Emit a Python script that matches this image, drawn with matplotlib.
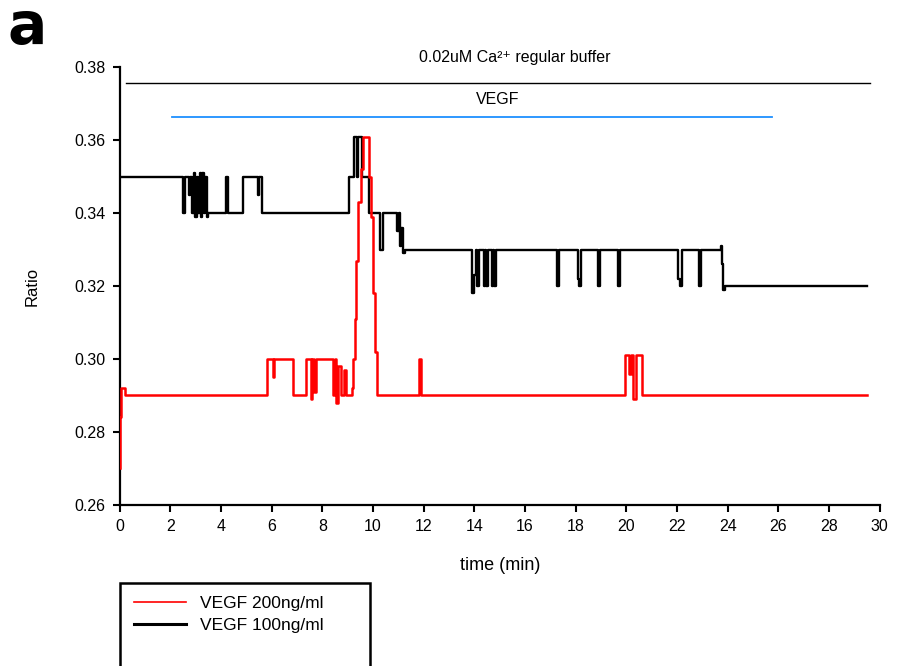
import matplotlib
matplotlib.use("Agg")
import matplotlib.pyplot as plt
from matplotlib.patches import Rectangle

plt.rcParams['font.family'] = ['Liberation Sans', 'DejaVu Sans']

# VEGF 200 ng/ml trace (time in min, ratio), step-wise
red_t = [0.00, 0.03, 0.07, 0.20,
         5.80, 6.05, 6.10, 6.83,
         7.37, 7.55, 7.60, 7.68, 7.73, 8.40, 8.48, 8.55, 8.62, 8.75, 8.85, 8.92,
         9.15, 9.20, 9.27, 9.33, 9.42, 9.52, 9.62, 9.85, 9.90, 9.98, 10.07, 10.17,
         11.82, 11.90,
         19.94, 20.10, 20.18, 20.26, 20.37, 20.60,
         29.50]
red_v = [0.270, 0.284, 0.292, 0.290,
         0.300, 0.295, 0.300, 0.290,
         0.300, 0.289, 0.300, 0.291, 0.300, 0.290, 0.300, 0.288, 0.298, 0.290, 0.297, 0.290,
         0.292, 0.300, 0.311, 0.327, 0.343, 0.352, 0.361, 0.350, 0.339, 0.318, 0.302, 0.290,
         0.300, 0.290,
         0.301, 0.296, 0.301, 0.289, 0.301, 0.290,
         0.290]

# VEGF 100 ng/ml trace
blk_t = [0.00,
         2.50, 2.58, 2.72, 2.78, 2.85, 2.92, 2.98, 3.05, 3.10, 3.15, 3.20, 3.26, 3.32, 3.38, 3.44, 3.50,
         4.19, 4.27,
         4.85, 5.45, 5.50, 5.62,
         9.05, 9.25, 9.35, 9.42, 9.58, 9.82,
         10.29, 10.38,
         10.95, 11.02, 11.07, 11.12, 11.18, 11.25,
         13.92, 14.00, 14.05, 14.11, 14.18,
         14.38, 14.42, 14.46, 14.52, 14.68, 14.74, 14.78, 14.86,
         17.27, 17.34, 18.07, 18.13, 18.19, 18.89, 18.96, 19.67, 19.74,
         22.04, 22.12, 22.19, 22.87, 22.94,
         23.72, 23.76, 23.82, 23.88, 29.50]
blk_v = [0.350,
         0.340, 0.350, 0.345, 0.350, 0.340, 0.351, 0.339, 0.350, 0.340, 0.351, 0.339, 0.351, 0.340, 0.350, 0.339, 0.340,
         0.350, 0.340,
         0.350, 0.345, 0.350, 0.340,
         0.350, 0.361, 0.350, 0.361, 0.350, 0.340,
         0.330, 0.340,
         0.335, 0.340, 0.331, 0.336, 0.329, 0.330,
         0.318, 0.323, 0.330, 0.320, 0.330,
         0.320, 0.330, 0.320, 0.330, 0.320, 0.330, 0.320, 0.330,
         0.320, 0.330, 0.322, 0.320, 0.330, 0.320, 0.330, 0.320, 0.330,
         0.322, 0.320, 0.330, 0.320, 0.330,
         0.331, 0.326, 0.319, 0.320, 0.320]

# treatment bars: (start, end) in min
buffer_span = [0.25, 29.6]
vegf_span = [2.05, 25.75]

fig = plt.figure(figsize=(9.07, 6.66), dpi=100)
ax = fig.add_axes([0.132, 0.242, 0.838, 0.657])

red_line, = ax.plot(red_t, red_v, drawstyle="steps-post", color="#ff0000",
                    lw=1.8, label="VEGF 200ng/ml", zorder=3)
blk_line, = ax.plot(blk_t, blk_v, drawstyle="steps-post", color="black",
                    lw=1.7, label="VEGF 100ng/ml", zorder=2)

ax.plot(buffer_span, [0.3756, 0.3756], color="black", lw=1.0, clip_on=False)
ax.plot(vegf_span, [0.3663, 0.3663], color="#1e90ff", lw=1.3, clip_on=False)
ax.text(15.6, 0.3827, "0.02uM Ca²⁺ regular buffer", ha="center", va="center",
        fontsize=11.5, clip_on=False)
ax.text(14.9, 0.3712, "VEGF", ha="center", va="center", fontsize=11.5)

ax.set_xlim(0, 30)
ax.set_ylim(0.26, 0.38)
ax.set_xticks(range(0, 31, 2))
ax.set_yticks([0.26, 0.28, 0.30, 0.32, 0.34, 0.36, 0.38])
ax.set_yticklabels([f"{v:.2f}" for v in ax.get_yticks()])
for s in ["top", "right"]:
    ax.spines[s].set_visible(False)
for s in ["left", "bottom"]:
    ax.spines[s].set_linewidth(1.6)
ax.tick_params(direction="out", length=5, width=1.5, labelsize=11.5, pad=5)
ax.set_xlabel("time (min)", fontsize=13, labelpad=17)
ax.set_ylabel("Ratio", fontsize=12, labelpad=25)

fig.text(0.008, 0.958, "a", fontsize=42, fontweight="bold", family="DejaVu Sans",
         va="center", ha="left")

# legend box, cut off at the bottom like the original
fig.patches.append(Rectangle((120 / 907, -0.05), 250 / 907, (666 - 583) / 666 + 0.05,
                             transform=fig.transFigure, fill=False,
                             edgecolor="black", lw=1.8))
leg = fig.legend(handles=[red_line, blk_line], loc="upper left",
                 bbox_to_anchor=(134 / 907, 1 - 596 / 666), frameon=False,
                 fontsize=12.5, handlelength=3.0, handletextpad=0.8,
                 labelspacing=0.4, borderpad=0, borderaxespad=0)
leg.legend_handles[0].set_linewidth(1.2)
leg.legend_handles[1].set_linewidth(2.2)

plt.savefig("out.png", dpi=100)
